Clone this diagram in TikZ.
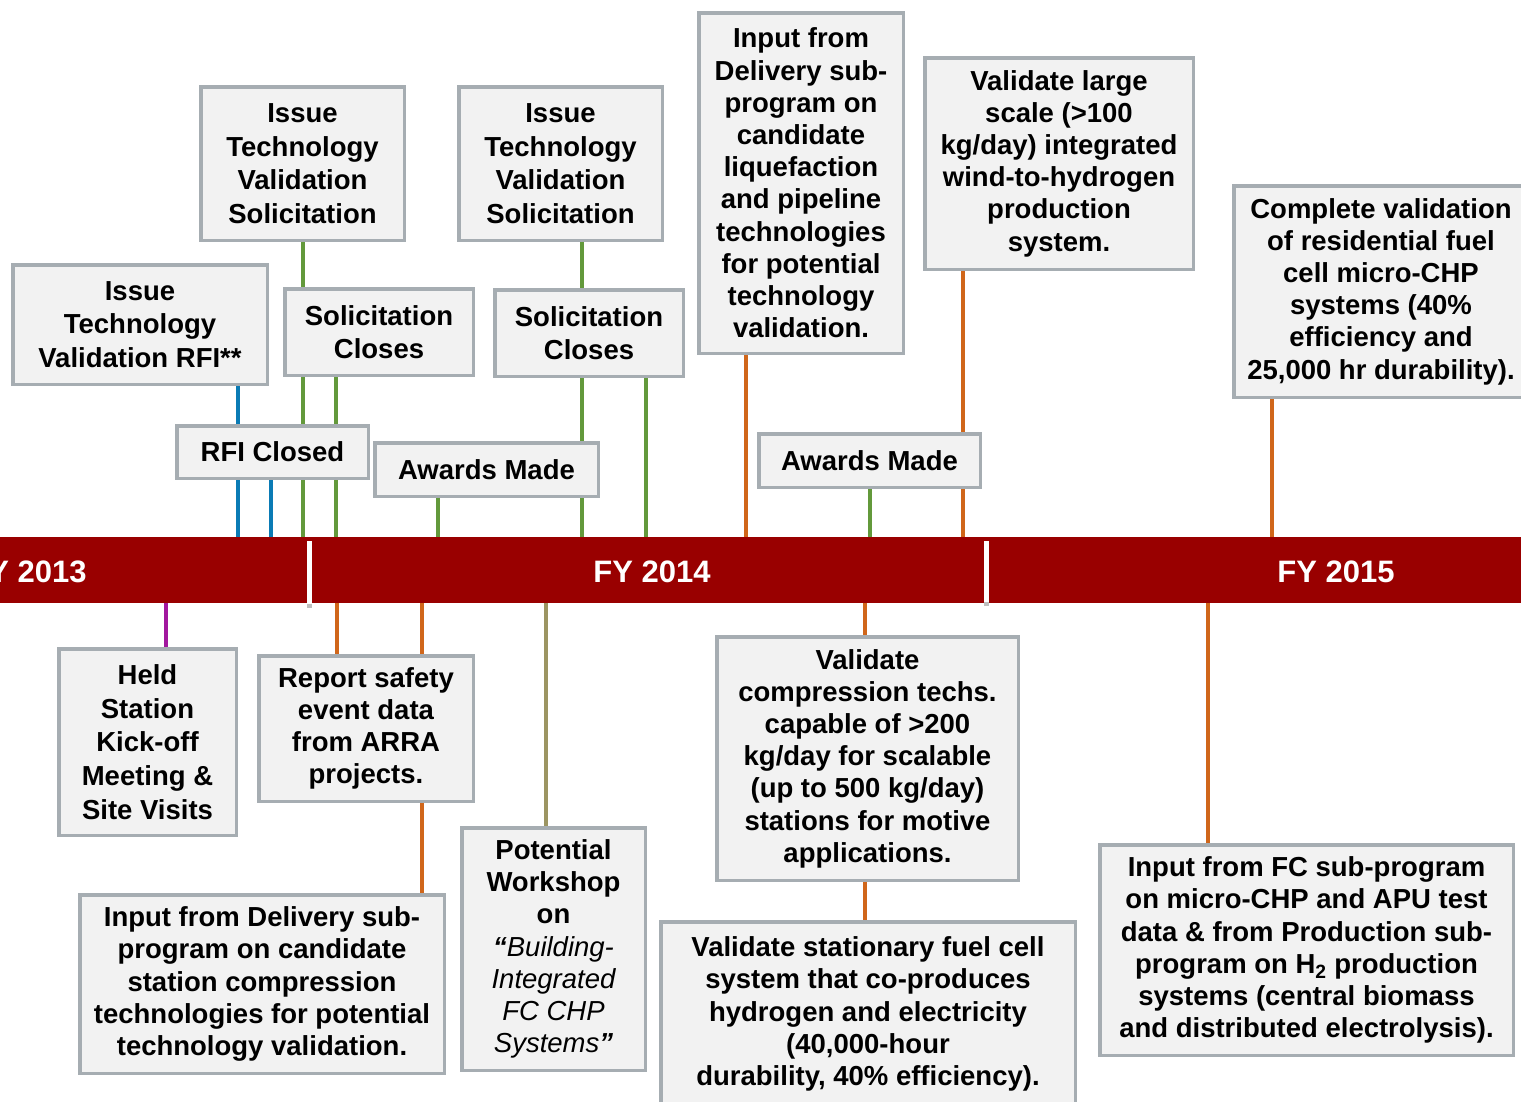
\documentclass[tikz,border=0pt]{standalone}
\usepackage{fontspec}
\setmainfont{Liberation Sans}
\usetikzlibrary{backgrounds}
\definecolor{barred}{HTML}{990000}
\definecolor{boxfill}{HTML}{F2F2F2}
\definecolor{boxline}{HTML}{A6ADB2}
\definecolor{cblue}{HTML}{0A7BB5}
\definecolor{cgreen}{HTML}{63993B}
\definecolor{corange}{HTML}{D0661A}
\definecolor{cpurple}{HTML}{A2179E}
\definecolor{colive}{HTML}{9C9562}
\tikzset{
  box/.style={draw=boxline, fill=boxfill, line width=3.5pt, inner sep=0pt, align=center,
    font=\fontsize{27.5}{32.2}\selectfont\bfseries, text=black},
  boxw/.style={box, font=\fontsize{27.5}{33.6}\selectfont\bfseries},
  wh/.style 2 args={minimum width=#1-3.5, minimum height=#2-3.5},
  conn/.style={line width=4pt},
  fy/.style={text=white, font=\fontsize{31}{36}\selectfont\bfseries, inner sep=0pt},
  tick/.style={draw=white, line width=5pt},
}
\begin{document}
\begin{tikzpicture}[x=1pt,y=-1pt]
\useasboundingbox (0,0) rectangle (1521,1101);
\clip (0,0) rectangle (1521,1101);

% timeline bar
\node[fill=barred, minimum width=1521, minimum height=66, inner sep=0pt] (bar) at (760.5,570) {};
\fill[black!25] (307,604) rectangle (312,608);
\fill[black!25] (984,602) rectangle (989,606);
\draw[tick] (309,541) -- (309,604);
\draw[tick] (986,541) -- (986,602);
\node[fy] (fy13) at (28,572) {FY 2013};
\node[fy] (fy14) at (652,572) {FY 2014};
\node[fy] (fy15) at (1336,572) {FY 2015};

% upper boxes
\node[boxw, wh={258}{123}] (rfi) at (140,324.5) {Issue\\Technology\\Validation RFI**};
\node[boxw, wh={207}{157}] (sola) at (302.5,163.5) {Issue\\Technology\\Validation\\Solicitation};
\node[boxw, wh={192}{90}] (scla) at (379,332) {Solicitation\\Closes};
\node[box, wh={195}{56}] (rficl) at (272.5,452) {RFI Closed};
\node[box, wh={227}{57}] (awa) at (486.5,469.5) {Awards Made};
\node[boxw, wh={207}{157}] (solb) at (560.5,163.5) {Issue\\Technology\\Validation\\Solicitation};
\node[boxw, wh={192}{90}] (sclb) at (589,333) {Solicitation\\Closes};
\node[box, wh={208}{344}] (deliv) at (801,183) {Input from\\Delivery sub-\\program on\\candidate\\liquefaction\\and pipeline\\technologies\\for potential\\technology\\validation.};
\node[box, wh={225}{57}] (awb) at (869.5,460.5) {Awards Made};
\node[box, wh={272}{215}] (wind) at (1059,163.5) {Validate large\\scale (>100\\kg/day) integrated\\wind-to-hydrogen\\production\\system.};
\node[box, wh={298}{215}] (chp) at (1381,291.5) {Complete validation\\of residential fuel\\cell micro-CHP\\systems (40\%\\efficiency and\\25,000 hr durability).};

% lower boxes
\node[boxw, wh={181}{190}] (held) at (147.5,742) {Held\\Station\\Kick-off\\Meeting \&\\Site Visits};
\node[box, wh={218}{149}] (safety) at (366,728.5) {Report safety\\event data\\from ARRA\\projects.};
\node[box, wh={368}{182}] (station) at (262,984) {Input from Delivery sub-\\program on candidate\\station compression\\technologies for potential\\technology validation.};
\node[box, wh={187}{246}] (workshop) at (553.5,949) {Potential\\Workshop\\on\\{\itshape “}{\mdseries\itshape Building-}\\{\mdseries\itshape Integrated}\\{\mdseries\itshape FC CHP}\\{\mdseries\itshape Systems}{\itshape ”}};
\node[box, wh={305}{247}] (compr) at (867.5,758.5) {Validate\\compression techs.\\capable of >200\\kg/day for scalable\\(up to 500 kg/day)\\stations for motive\\applications.};
\node[box, wh={418}{188}] (stat) at (868,1014) {Validate stationary fuel cell\\system that co-produces\\hydrogen and electricity\\(40,000-hour\\durability, 40\% efficiency).};
\node[box, wh={417}{214}] (fcin) at (1306.5,950) {Input from FC sub-program\\on micro-CHP and APU test\\data \& from Production sub-\\program on H\textsubscript{2} production\\systems (central biomass\\and distributed electrolysis).};

% connectors (behind the boxes)
\begin{scope}[on background layer]
\fill[white] (0,0) rectangle (1521,1101);
\draw[conn, cblue] (238,0 |- rfi.south) -- (238,0 |- bar.north);
\draw[conn, cblue] (271,0 |- rficl.south) -- (271,0 |- bar.north);
\draw[conn, cgreen] (303,0 |- sola.south) -- (303,0 |- bar.north);
\draw[conn, cgreen] (336,0 |- scla.south) -- (336,0 |- bar.north);
\draw[conn, cgreen] (438,0 |- awa.south) -- (438,0 |- bar.north);
\draw[conn, cgreen] (582,0 |- solb.south) -- (582,0 |- bar.north);
\draw[conn, cgreen] (646,0 |- sclb.south) -- (646,0 |- bar.north);
\draw[conn, cgreen] (870,0 |- awb.south) -- (870,0 |- bar.north);
\draw[conn, corange] (746,0 |- deliv.south) -- (746,0 |- bar.north);
\draw[conn, corange] (963,0 |- wind.south) -- (963,0 |- bar.north);
\draw[conn, corange] (1272,0 |- chp.south) -- (1272,0 |- bar.north);
\draw[conn, cpurple] (166,0 |- bar.south) -- (166,0 |- held.north);
\draw[conn, corange] (337,0 |- bar.south) -- (337,0 |- safety.north);
\draw[conn, corange] (422,0 |- bar.south) -- (422,0 |- station.north);
\draw[conn, colive] (546,0 |- bar.south) -- (546,0 |- workshop.north);
\draw[conn, corange] (865,0 |- bar.south) -- (865,0 |- stat.north);
\draw[conn, corange] (1208,0 |- bar.south) -- (1208,0 |- fcin.north);
\end{scope}
\end{tikzpicture}
\end{document}
